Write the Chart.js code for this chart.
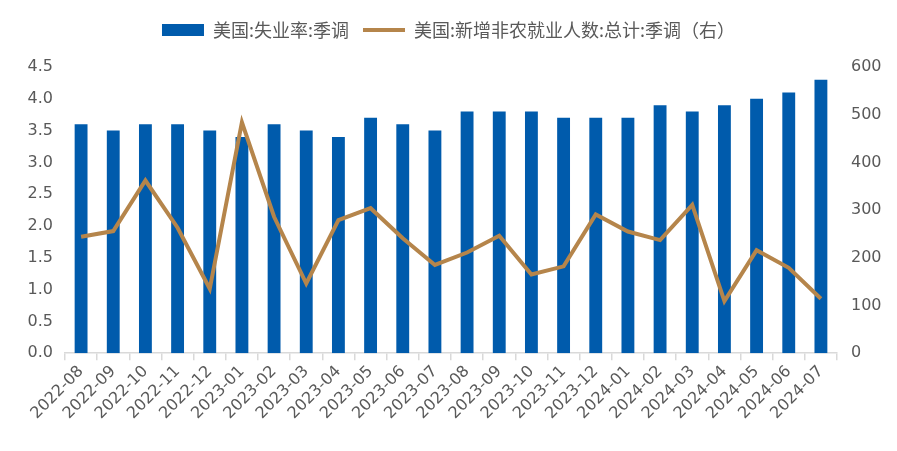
<!DOCTYPE html>
<html>
<head>
<meta charset="utf-8">
<script src="https://cdn.jsdelivr.net/npm/chart.js@4.4.1/dist/chart.umd.min.js"></script>
<style>
  html, body { margin: 0; padding: 0; background: #fff; }
  #wrap { width: 897px; height: 451px; }
</style>
</head>
<body>
<div id="wrap"><canvas id="chart"></canvas></div>
<script>
// data
const months = ['2022-08', '2022-09', '2022-10', '2022-11', '2022-12', '2023-01', '2023-02', '2023-03',
  '2023-04', '2023-05', '2023-06', '2023-07', '2023-08', '2023-09', '2023-10', '2023-11', '2023-12',
  '2024-01', '2024-02', '2024-03', '2024-04', '2024-05', '2024-06', '2024-07'];
const unemployment = [3.6, 3.5, 3.6, 3.6, 3.5, 3.4, 3.6, 3.5, 3.4, 3.7, 3.6, 3.5, 3.8, 3.8, 3.8, 3.7, 3.7,
  3.7, 3.9, 3.8, 3.9, 4.0, 4.1, 4.3];
const payrolls = [244, 256, 362, 263, 135, 484, 286, 146, 279, 304, 241, 185, 211, 246, 165, 182, 291,
  255, 237, 311, 109, 216, 179, 114];
const leftTicks = [0, 0.5, 1, 1.5, 2, 2.5, 3, 3.5, 4, 4.5];
const rightTicks = [0, 100, 200, 300, 400, 500, 600];

const textColor = '#595959';
const tickFont = { family: '"DejaVu Sans", sans-serif', size: 16 };

// extra space under the legend
const legendGap = {
  id: 'legendGap',
  beforeInit(chart) {
    const fit = chart.legend.fit;
    chart.legend.fit = function () {
      fit.bind(chart.legend)();
      this.height += 18;
    };
  },
};

const ctx = document.getElementById('chart').getContext('2d');
new Chart(ctx, {
  data: {
    labels: months,
    datasets: [
      {
        type: 'bar',
        label: '美国:失业率:季调',
        data: unemployment,
        backgroundColor: '#005BAC',
        borderWidth: 0,
        barPercentage: 0.4,
        categoryPercentage: 1,
        yAxisID: 'y',
        order: 2,
        pointStyle: 'rect',
      },
      {
        type: 'line',
        label: '美国:新增非农就业人数:总计:季调（右）',
        data: payrolls,
        borderColor: '#B5854B',
        backgroundColor: '#B5854B',
        borderWidth: 4,
        tension: 0,
        pointRadius: 0,
        yAxisID: 'y1',
        order: 1,
        pointStyle: 'line',
      },
    ],
  },
  plugins: [legendGap],
  options: {
    responsive: true,
    maintainAspectRatio: false,
    animation: false,
    layout: { padding: { top: 7, left: 0, right: 0, bottom: 26 } },
    plugins: {
      tooltip: { enabled: false },
      legend: {
        position: 'top',
        labels: {
          usePointStyle: true,
          pointStyleWidth: 42,
          boxHeight: 12,
          padding: 14,
          color: textColor,
          font: { family: '"Noto Sans CJK SC", sans-serif', size: 18 },
          sort: (a, b) => a.datasetIndex - b.datasetIndex,
        },
      },
    },
    scales: {
      x: {
        grid: { display: true, drawOnChartArea: false, drawTicks: true, tickLength: 7, color: '#d9d9d9', lineWidth: 1.5 },
        border: { display: true, color: '#d9d9d9', width: 1.5 },
        ticks: { color: textColor, font: tickFont, maxRotation: 45, minRotation: 45, autoSkip: false, padding: 2 },
        afterFit: axis => { axis.paddingLeft = 0; axis.paddingRight = 0; },
      },
      y: {
        position: 'left',
        min: 0,
        max: 4.5,
        afterBuildTicks: axis => { axis.ticks = leftTicks.map(v => ({ value: v })); },
        afterFit: axis => { axis.width = 65; },
        grid: { display: false, drawTicks: false },
        border: { display: false },
        ticks: { color: textColor, font: tickFont, padding: 12, callback: v => Number(v).toFixed(1) },
      },
      y1: {
        position: 'right',
        min: 0,
        max: 600,
        afterBuildTicks: axis => { axis.ticks = rightTicks.map(v => ({ value: v })); },
        afterFit: axis => { axis.width = 60; },
        grid: { display: false, drawTicks: false },
        border: { display: false },
        ticks: { color: textColor, font: tickFont, padding: 14 },
      },
    },
  },
});
</script>
</body>
</html>
